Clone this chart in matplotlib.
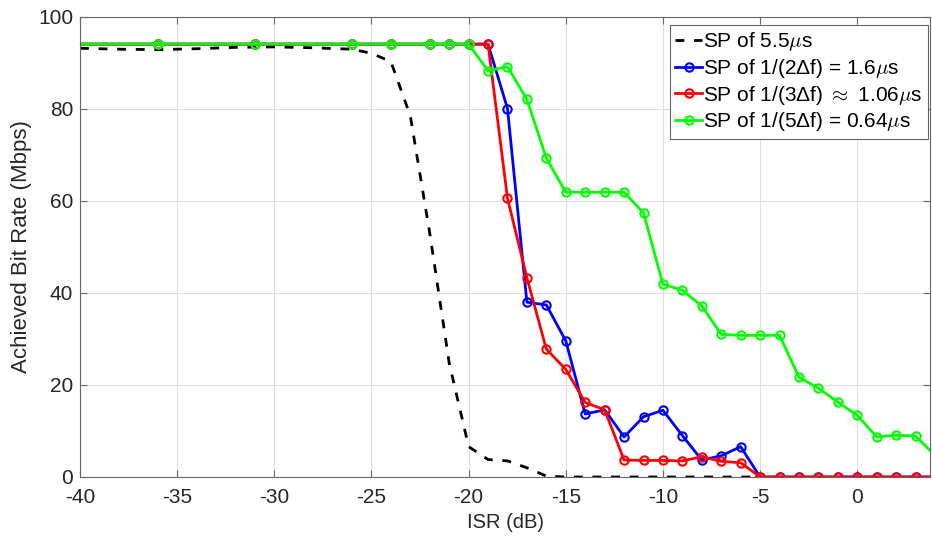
import matplotlib
matplotlib.use("Agg")
import matplotlib.pyplot as plt

plt.rcParams["font.family"] = ["Liberation Sans", "DejaVu Sans"]
plt.rcParams["mathtext.fontset"] = "cm"
plt.rcParams["axes.unicode_minus"] = False

# ISR grid shared by the three marker curves (first point sits left of the axis)
isr = [-41, -36, -31, -26, -24, -22, -21, -20, -19, -18, -17, -16, -15, -14,
       -13, -12, -11, -10, -9, -8, -7, -6, -5, -4, -3, -2, -1, 0, 1, 2, 3, 4]

rate_16us = [94.1, 94.1, 94.1, 94.1, 94.1, 94.1, 94.1, 94.1, 94.1, 80.1, 38.0,
             37.4, 29.6, 13.7, 14.6, 8.7, 13.1, 14.5, 9.0, 3.7, 4.6, 6.6, 0, 0,
             0, 0, 0, 0, 0, 0, 0, 0]
rate_106us = [94.1, 94.1, 94.1, 94.1, 94.1, 94.1, 94.1, 94.1, 94.1, 60.6, 43.3,
              27.8, 23.4, 16.2, 14.6, 3.7, 3.6, 3.6, 3.5, 4.4, 3.4, 3.1, 0, 0,
              0, 0, 0, 0, 0, 0, 0, 0]
rate_064us = [94.1, 94.1, 94.1, 94.1, 94.1, 94.1, 94.1, 94.1, 88.3, 89.2, 82.1,
              69.3, 61.9, 61.9, 61.9, 61.9, 57.4, 41.9, 40.6, 37.2, 31.0, 30.8,
              30.8, 30.8, 21.7, 19.3, 16.3, 13.4, 8.7, 9.1, 8.9, 4.7]

# 5.5 us symbol period curve (dashed, no markers)
isr_55 = [-40, -38, -36, -34, -32, -30, -28, -26, -25, -24, -23, -22, -21, -20,
          -19, -18, -17, -16, -15, -10, -5]
rate_55us = [93.2, 93.0, 92.9, 93.1, 93.4, 93.5, 93.3, 93.0, 92.1, 90.3, 78.5,
             53.0, 24.8, 6.6, 3.8, 3.5, 2.0, 0.2, 0, 0, 0]

labels = [
    r"SP of 5.5$\mu$s",
    r"SP of 1/(2Δf) = 1.6$\mu$s",
    r"SP of 1/(3Δf) $\approx$ 1.06$\mu$s",
    r"SP of 1/(5Δf) = 0.64$\mu$s",
]

fig = plt.figure(figsize=(9.32, 5.41), dpi=100)
ax = fig.add_axes([0.0858, 0.1183, 0.9122, 0.8503])

ax.plot(isr_55, rate_55us, color="k", lw=2.0, dashes=(3.2, 3.5), label=labels[0])
mk = dict(marker="o", markersize=6, markerfacecolor="none", markeredgewidth=1.5, lw=2.0)
ax.plot(isr, rate_16us, color="#0000ff", label=labels[1], **mk)
ax.plot(isr, rate_106us, color="#ff0000", label=labels[2], **mk)
ax.plot(isr, rate_064us, color="#00ff00", label=labels[3], **mk)

ax.set_xlim(-40, 3.75)
ax.set_ylim(0, 100)
ax.set_xticks(range(-40, 1, 5))
ax.set_yticks(range(0, 101, 20))
ax.grid(True, color="#dedede", lw=0.8)
ax.set_axisbelow(True)
ax.tick_params(direction="in", top=True, right=True, labelsize=15,
               labelcolor="#262626", length=5, color="#666666")
ax.tick_params(axis="x", pad=8)
ax.tick_params(axis="y", pad=5)
for s in ax.spines.values():
    s.set_color("#666666")
    s.set_linewidth(0.8)

ax.set_xlabel("ISR (dB)", fontsize=14.5, color="#262626", labelpad=4)
ax.set_ylabel("Achieved Bit Rate (Mbps)", fontsize=16, color="#262626", labelpad=4)

leg = ax.legend(loc="upper right", bbox_to_anchor=(928 / 932, 1 - 25 / 541),
                bbox_transform=fig.transFigure, fontsize=15, fancybox=False,
                framealpha=1, edgecolor="#666666", handlelength=1.3,
                handletextpad=0.05, labelspacing=0.18, borderpad=0.25,
                borderaxespad=0)
leg.get_frame().set_linewidth(0.8)

fig.savefig("out.png", dpi=100)
